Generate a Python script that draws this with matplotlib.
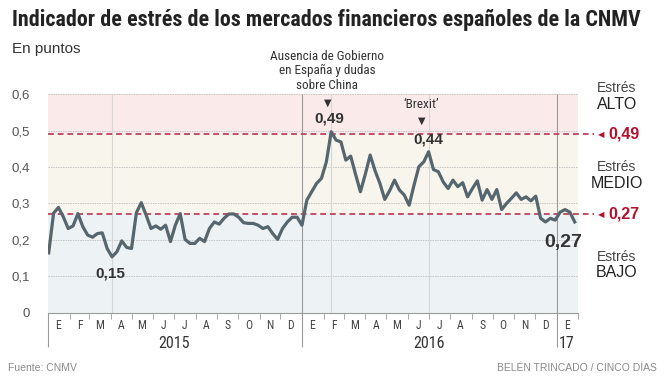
import matplotlib
matplotlib.use("Agg")
import matplotlib.pyplot as plt
from matplotlib import font_manager
import numpy as np
import pandas as pd

# indicador semanal de estrés (CNMV), ene 2015 - ene 2017
stress = [0.164, 0.273, 0.289, 0.263, 0.231, 0.238, 0.272, 0.236, 0.213, 0.207,
          0.217, 0.219, 0.176, 0.153, 0.167, 0.197, 0.179, 0.176, 0.274, 0.302,
          0.268, 0.231, 0.238, 0.229, 0.240, 0.195, 0.240, 0.272, 0.201, 0.190,
          0.190, 0.204, 0.195, 0.231, 0.249, 0.243, 0.259, 0.271, 0.271, 0.262,
          0.247, 0.245, 0.245, 0.240, 0.231, 0.236, 0.217, 0.201, 0.231, 0.249,
          0.262, 0.262, 0.240, 0.309, 0.332, 0.355, 0.369, 0.414, 0.497, 0.474,
          0.469, 0.419, 0.430, 0.380, 0.332, 0.380, 0.433, 0.390, 0.355, 0.311,
          0.335, 0.364, 0.337, 0.323, 0.295, 0.350, 0.401, 0.414, 0.442, 0.393,
          0.387, 0.359, 0.341, 0.364, 0.346, 0.357, 0.318, 0.341, 0.362, 0.309,
          0.338, 0.311, 0.338, 0.283, 0.300, 0.314, 0.329, 0.311, 0.318, 0.307,
          0.320, 0.259, 0.249, 0.259, 0.254, 0.276, 0.283, 0.276, 0.249]
fechas = pd.date_range("2015-01-02", periods=len(stress), freq="7D")

umbral_alto = 0.49
umbral_medio = 0.27
meses = ["E", "F", "M", "A", "M", "J", "J", "A", "S", "O", "N", "D"]
anios = ["2015", "2016", "17"]
yticks = [0, 0.1, 0.2, 0.3, 0.4, 0.5, 0.6]
ylabels = ["0", "0,1", "0,2", "0,3", "0,4", "0,5", "0,6"]

# buscar una fuente estrecha entre las instaladas
entries = font_manager.fontManager.ttflist
names = {f.name for f in entries}
narrow_fp = None
for cand in ["Liberation Sans Narrow", "Roboto Condensed", "Open Sans Condensed",
             "Noto Sans Condensed", "DejaVu Sans Condensed", "Arial Narrow"]:
    if cand in names:
        narrow_fp = dict(family=cand)
        break
if narrow_fp is None:
    cond = [f for f in entries if str(f.stretch) in ("condensed", "semi-condensed", "extra-condensed")
            or (isinstance(f.stretch, int) and f.stretch < 500)
            or "Condensed" in f.fname or "Narrow" in f.fname]
    if cond:
        narrow_fp = dict(family=cond[0].name, stretch="condensed")
    else:
        narrow_fp = dict(family="Liberation Sans" if "Liberation Sans" in names else "DejaVu Sans")

sans = "Liberation Sans" if "Liberation Sans" in names else "DejaVu Sans"
plt.rcParams["font.family"] = sans

linea = "#56666e"
rojo = "#b3122e"
discont = "#c05068"

fig = plt.figure(figsize=(6.64, 3.86), dpi=100)
ax = fig.add_axes([0.0723, 0.1904, 0.7985, 0.5653])

x0 = pd.Timestamp("2015-01-01")
x1 = pd.Timestamp("2017-02-01")
ax.set_xlim(x0, x1)
ax.set_ylim(0, 0.6)

# bandas de estrés
ax.axhspan(0, umbral_medio, color="#edf2f5", lw=0, zorder=0)
ax.axhspan(umbral_medio, umbral_alto, color="#f8f6ec", lw=0, zorder=0)
ax.axhspan(umbral_alto, 0.6, color="#fbeaea", lw=0, zorder=0)
for v in yticks[1:]:
    ax.axhline(v, color="#c4c4c4", lw=0.7, ls=(0, (1.5, 1)), zorder=1)

for s in ["top", "right", "left"]:
    ax.spines[s].set_visible(False)
ax.spines["bottom"].set_color("#9a9a9a")
ax.spines["bottom"].set_linewidth(0.8)

ax.set_yticks(yticks)
ax.set_yticklabels(ylabels)
ax.tick_params(axis="y", length=0, pad=13, labelsize=9.5, labelcolor="#555555")

# eje de meses
inicio_mes = pd.date_range("2015-01-01", "2017-02-01", freq="MS")
ax.set_xticks(inicio_mes)
ax.set_xticklabels([])
ax.tick_params(axis="x", which="major", length=4, width=0.6, color="#9a9a9a")
centro_mes = inicio_mes[:-1] + pd.Timedelta(days=15)
ax.set_xticks(centro_mes, minor=True)
ax.set_xticklabels((meses * 3)[:len(centro_mes)], minor=True, fontsize=8.5,
                   color="#444444", **{("font" + k if k == "family" else "font" + k): v for k, v in narrow_fp.items()})
ax.tick_params(axis="x", which="minor", length=0, pad=5)

trans = ax.get_xaxis_transform()
for d in ["2015-01-01", "2016-01-01", "2017-01-01"]:
    top = 0 if d == "2015-01-01" else 1
    ax.vlines(pd.Timestamp(d), -0.16, top, transform=trans, color="#9a9a9a",
              lw=0.8, clip_on=False, zorder=2)
centros_anio = [pd.Timestamp("2015-07-01"), pd.Timestamp("2016-07-01"), pd.Timestamp("2017-01-16")]
for c, t in zip(centros_anio, anios):
    ax.text(c, -0.14, t, transform=trans, ha="center", va="center",
            fontsize=11.5, color="#333333", **{"font" + k: v for k, v in narrow_fp.items()})

# puntos destacados
serie = pd.Series(stress, index=fechas)
i_min = int(np.argmin(stress))
i_max = int(np.argmax(stress))
brexit = serie["2016-06-01":"2016-08-01"]
d_brexit = brexit.idxmax()
for d in [fechas[i_min], fechas[i_max], d_brexit]:
    ax.axvline(d, color="#d6d6d6", lw=0.8, zorder=1)

ax.plot(fechas, stress, color=linea, lw=2.3, solid_joinstyle="round", zorder=4)

# umbrales
ytrans = ax.get_yaxis_transform()
for u in [umbral_alto, umbral_medio]:
    ax.plot([0, 1.029], [u, u], transform=ytrans, color=discont, lw=1.4,
            dashes=(3, 2), clip_on=False, zorder=3)
    ax.text(1.038, u, "\u25C0", transform=ytrans, ha="left", va="center",
            fontsize=6, color=rojo, fontfamily="DejaVu Sans")
    ax.text(1.056, u, f"{u:.2f}".replace(".", ","), transform=ytrans, ha="left",
            va="center", fontsize=11.5, fontweight="bold", color=rojo)

niveles = [("ALTO", 0.617, 0.573), ("MEDIO", 0.399, 0.356), ("BAJO", 0.152, 0.109)]
for nombre, y1, y2 in niveles:
    ax.text(1.073, y1, "Estrés", transform=ytrans, ha="center", va="center",
            fontsize=10, color="#444444")
    ax.text(1.073, y2, nombre, transform=ytrans, ha="center", va="center",
            fontsize=11.5, color="#222222")

lab = dict(textcoords="offset pixels", ha="center", va="center",
           fontsize=11, fontweight="bold", color="#333333", zorder=5)
ax.annotate("0,15", (fechas[i_min], stress[i_min]), xytext=(-2, -17), **lab)
ax.annotate("0,49", (fechas[i_max], stress[i_max]), xytext=(-2, 13), **lab)
ax.annotate("0,44", (d_brexit, serie[d_brexit]), xytext=(0, 12), **lab)
ax.annotate("0,27", (fechas[-1], stress[-1]), xytext=(-12, -21),
            **{**lab, "fontsize": 14})

tri = dict(textcoords="offset pixels", ha="center", va="center", fontsize=7,
           color="#333333", fontfamily="DejaVu Sans")
ax.annotate("\u25BC", (fechas[i_max], stress[i_max]), xytext=(-3, 29), **tri)
ax.annotate("\u25BC", (d_brexit, serie[d_brexit]), xytext=(-7, 31), **tri)
nfp = {"font" + k: v for k, v in narrow_fp.items()}
ax.annotate("Ausencia de Gobierno\nen España y dudas\nsobre China",
            (fechas[i_max], stress[i_max]), xytext=(-4, 61), textcoords="offset pixels",
            ha="center", va="center", fontsize=9.5, color="#333333",
            linespacing=1.15, **nfp)
ax.annotate("\u2018Brexit\u2019", (d_brexit, serie[d_brexit]), xytext=(-7, 47),
            textcoords="offset pixels", ha="center", va="center", fontsize=9.5,
            color="#333333", **nfp)

# textos de cabecera y pie
titulo = fig.text(12 / 664, 1 - 20 / 386, "Indicador de estrés de los mercados financieros españoles de la CNMV",
                  ha="left", va="center", fontsize=17, fontweight="bold",
                  color="#222222", **nfp)
fig.canvas.draw()
w = titulo.get_window_extent().width
titulo.set_fontsize(17 * 628 / w)

fig.text(12 / 664, 1 - 49 / 386, "En puntos", ha="left", va="center",
         fontsize=11, color="#333333")
fig.text(8 / 664, 1 - 368 / 386, "Fuente: CNMV", ha="left", va="center",
         fontsize=7.5, color="#8a8a8a")
fig.text(657 / 664, 1 - 368 / 386, "BELÉN TRINCADO / CINCO DÍAS", ha="right",
         va="center", fontsize=7.5, color="#8a8a8a")

fig.savefig("out.png", dpi=100, facecolor="white")
